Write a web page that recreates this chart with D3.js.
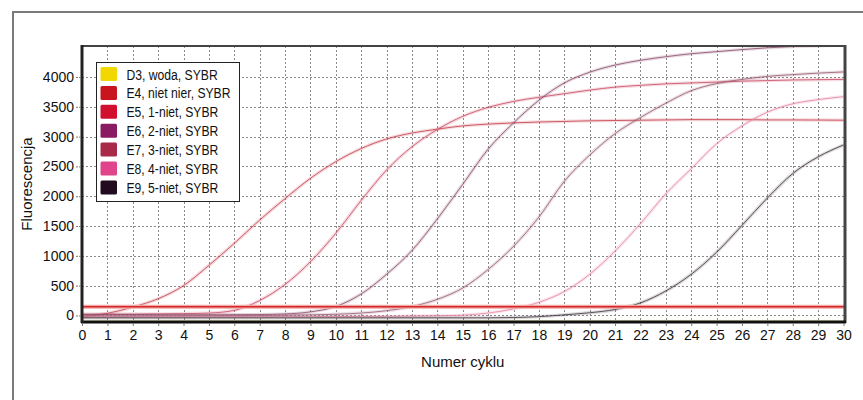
<!DOCTYPE html>
<html>
<head>
<meta charset="utf-8">
<script src="https://cdn.jsdelivr.net/npm/d3@7/dist/d3.min.js"></script>
<style>
  html, body { margin: 0; padding: 0; background: #fff; }
  svg { display: block; }
  .tick-label { font-family: "Liberation Sans", Arial, sans-serif; font-size: 14px; fill: #111; }
  .title { font-family: "Liberation Sans", Arial, sans-serif; font-size: 15px; fill: #111; }
  .legend-text { font-family: "Liberation Sans", Arial, sans-serif; font-size: 15.2px; fill: #111; }
</style>
</head>
<body>
<svg id="chart" width="863" height="400"></svg>
<script>
// Cycle numbers (x axis)
const cycles = [0,1,2,3,4,5,6,7,8,9,10,11,12,13,14,15,16,17,18,19,20,21,22,23,24,25,26,27,28,29,30];

// Sample names shown in the legend
const seriesNames = ["D3, woda, SYBR", "E4, niet nier, SYBR", "E5, 1-niet, SYBR", "E6, 2-niet, SYBR",
                     "E7, 3-niet, SYBR", "E8, 4-niet, SYBR", "E9, 5-niet, SYBR"];

// Fluorescence per cycle for each sample
const d3Woda  = [-100,-100,-100,-100,-100,-100,-100,-100,-100,-100,-100,-100,-100,-100,-100,-100,-100,-100,-100,-100,-100,-100,-100,-100,-100,-100,-100,-100,-100,-100,-100];
const e4Niet  = [-20,35,140,280,500,840,1210,1600,1960,2300,2580,2800,2960,3060,3125,3180,3210,3230,3245,3255,3265,3270,3275,3280,3285,3285,3285,3280,3280,3278,3275];
const e5Niet1 = [20,20,20,25,30,40,85,250,520,900,1380,1930,2440,2830,3120,3340,3490,3590,3660,3720,3780,3830,3860,3885,3900,3915,3930,3940,3950,3955,3960];
const e6Niet2 = [15,15,15,12,10,10,12,15,25,60,150,360,690,1090,1620,2200,2790,3230,3610,3900,4080,4200,4280,4340,4390,4425,4460,4490,4510,4525,4535];
const e7Niet3 = [-10,-10,-10,-5,-5,0,0,0,5,10,20,40,80,150,270,460,770,1160,1650,2250,2690,3050,3320,3560,3770,3890,3960,4010,4040,4065,4085];
const e8Niet4 = [-20,-20,-20,-20,-20,-20,-20,-20,-20,-20,-20,-15,-15,-10,-5,5,40,110,220,400,690,1080,1540,2040,2460,2880,3180,3410,3550,3620,3670];
const e9Niet5 = [-40,-40,-40,-40,-40,-40,-40,-40,-40,-40,-40,-40,-40,-40,-40,-40,-40,-35,-20,10,45,100,210,410,690,1060,1510,1970,2380,2660,2860];

// Detection threshold
const thresholdValue = 145;

// Axis tick values
const yTicks = [0,500,1000,1500,2000,2500,3000,3500,4000];
const xTicks = cycles;

const swatchColors = ["#f0d800", "#c8141e", "#d0102e", "#8a1a62", "#a82a48", "#e0448a", "#220a20"];
const lineColors   = ["#e8d040", "#c84452", "#cc5068", "#8e5070", "#9c6076", "#e688a6", "#45393f"];

const seriesValues = [d3Woda, e4Niet, e5Niet1, e6Niet2, e7Niet3, e8Niet4, e9Niet5];

const svg = d3.select("#chart");

// Outer frame (top and left edges)
svg.append("path")
  .attr("d", "M13,400 L13,12 L863,12")
  .attr("fill", "none").attr("stroke", "#7a7a7a").attr("stroke-width", 2);

const plot = { left: 82, right: 845, top: 46, bottom: 322 };

const x = d3.scaleLinear().domain([0, 30]).range([plot.left, 843.5]);
const y = d3.scaleLinear().domain([-110, 4520]).range([plot.bottom, plot.top]);

// Grid
const grid = svg.append("g").attr("stroke", "#8a8a8a").attr("stroke-width", 1)
  .attr("stroke-dasharray", "2,2");
grid.selectAll("line.v").data(xTicks.filter(d => d > 0 && d < 30)).join("line")
  .attr("x1", d => Math.round(x(d)) + 0.5).attr("x2", d => Math.round(x(d)) + 0.5)
  .attr("y1", plot.top).attr("y2", plot.bottom);
grid.selectAll("line.h").data(yTicks).join("line")
  .attr("x1", plot.left).attr("x2", plot.right)
  .attr("y1", d => Math.round(y(d)) + 0.5).attr("y2", d => Math.round(y(d)) + 0.5);

// Clip for curves
svg.append("clipPath").attr("id", "plotClip")
  .append("rect").attr("x", plot.left).attr("y", plot.top)
  .attr("width", plot.right - plot.left).attr("height", plot.bottom - plot.top);

const line = d3.line()
  .x((d, i) => x(cycles[i]))
  .y(d => y(d))
  .curve(d3.curveMonotoneX);

const curves = svg.append("g").attr("clip-path", "url(#plotClip)");

seriesValues.forEach((vals, i) => {
  curves.append("path").datum(vals)
    .attr("d", line).attr("fill", "none")
    .attr("stroke", lineColors[i]).attr("stroke-width", 3.4).attr("stroke-opacity", 0.2);
  curves.append("path").datum(vals)
    .attr("d", line).attr("fill", "none")
    .attr("stroke", lineColors[i]).attr("stroke-width", 1).attr("stroke-opacity", 0.85);
});

// Threshold line
curves.append("line")
  .attr("x1", plot.left).attr("x2", plot.right)
  .attr("y1", y(thresholdValue)).attr("y2", y(thresholdValue))
  .attr("stroke", "#f2a8a8").attr("stroke-width", 4);
curves.append("line")
  .attr("x1", plot.left).attr("x2", plot.right)
  .attr("y1", y(thresholdValue)).attr("y2", y(thresholdValue))
  .attr("stroke", "#d42a2a").attr("stroke-width", 1.6);

// Plot border
svg.append("line").attr("x1", plot.left).attr("x2", plot.right + 1)
  .attr("y1", plot.top).attr("y2", plot.top)
  .attr("stroke", "#444").attr("stroke-width", 2);
svg.append("line").attr("x1", plot.right).attr("x2", plot.right)
  .attr("y1", plot.top - 1).attr("y2", plot.bottom + 1)
  .attr("stroke", "#444").attr("stroke-width", 3);
svg.append("line").attr("x1", plot.left - 1).attr("x2", plot.right + 1)
  .attr("y1", plot.bottom).attr("y2", plot.bottom)
  .attr("stroke", "#111").attr("stroke-width", 3);
svg.append("line").attr("x1", plot.left).attr("x2", plot.left)
  .attr("y1", plot.top - 1).attr("y2", plot.bottom + 1)
  .attr("stroke", "#222").attr("stroke-width", 3);

// Y axis
const yAxis = svg.append("g").attr("transform", `translate(${plot.left - 1},0)`)
  .call(d3.axisLeft(y).tickValues(yTicks).tickSize(5).tickPadding(2).tickFormat(d3.format("d")));
yAxis.select(".domain").remove();
yAxis.selectAll(".tick line").attr("stroke", "#777").attr("stroke-dasharray", "2,1");
yAxis.selectAll(".tick text").attr("class", "tick-label").attr("font-family", null).attr("font-size", null);

// X axis
const xAxis = svg.append("g").attr("transform", `translate(0,${plot.bottom + 1})`)
  .call(d3.axisBottom(x).tickValues(xTicks).tickSize(3).tickPadding(4).tickFormat(d3.format("d")));
xAxis.select(".domain").remove();
xAxis.selectAll(".tick line").attr("stroke", "#777");
xAxis.selectAll(".tick text").attr("class", "tick-label").attr("font-family", null).attr("font-size", null);

// Axis titles
svg.append("text").attr("class", "title")
  .attr("x", (plot.left + 843.5) / 2).attr("y", 367)
  .attr("text-anchor", "middle").text("Numer cyklu");
svg.append("text").attr("class", "title")
  .attr("transform", "translate(32,184) rotate(-90)")
  .attr("text-anchor", "middle").text("Fluorescencja");

// Legend
const legend = svg.append("g");
legend.append("rect")
  .attr("x", 96.5).attr("y", 62.5).attr("width", 143).attr("height", 139)
  .attr("fill", "#fff").attr("stroke", "#222").attr("stroke-width", 1);
const rowH = 18.9;
const items = legend.selectAll("g.item").data(seriesNames).join("g")
  .attr("transform", (d, i) => `translate(0,${74 + i * rowH})`);
items.append("rect")
  .attr("x", 100.5).attr("y", -7).attr("width", 16.5).attr("height", 14).attr("rx", 1.5)
  .attr("fill", (d, i) => swatchColors[i]);
// condensed lettering for the legend labels
items.append("text").attr("class", "legend-text")
  .attr("transform", "translate(126.5,5.5) scale(0.8,1)")
  .text(d => d);
</script>
</body>
</html>
